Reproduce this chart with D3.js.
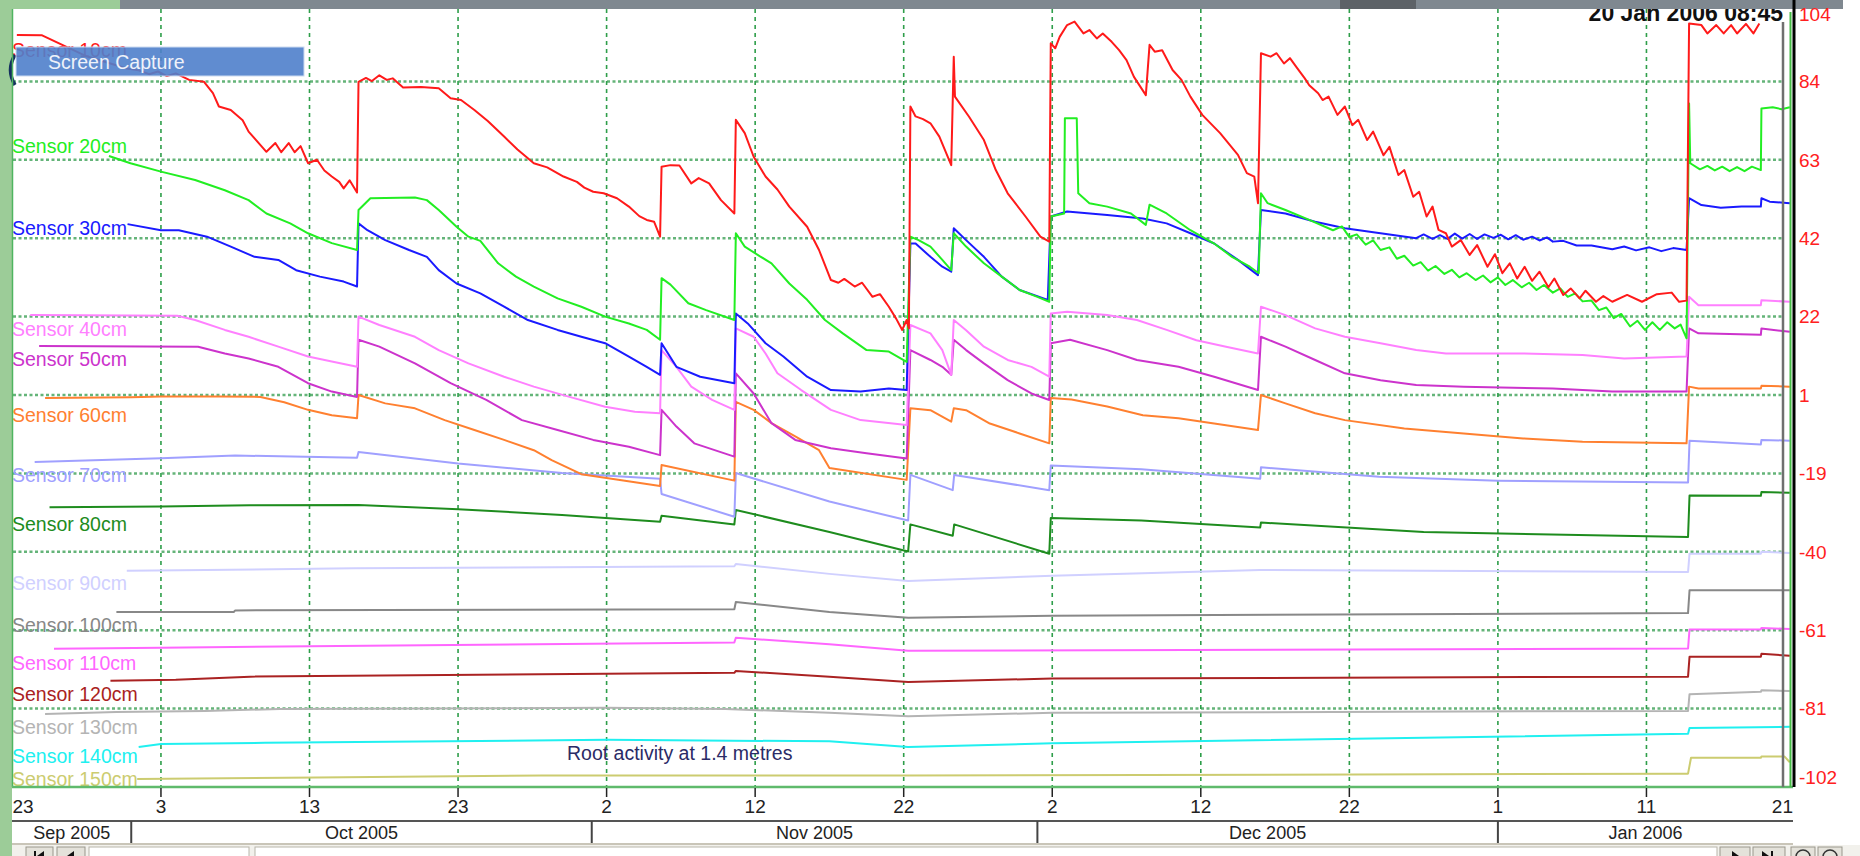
<!DOCTYPE html>
<html>
<head>
<meta charset="utf-8">
<script src="https://cdn.jsdelivr.net/npm/d3@7"></script>
<style>
  body { margin: 0; background: #fff; overflow: hidden; }
  text { font-family: "Liberation Sans", Arial, sans-serif; }
</style>
</head>
<body>
<svg id="chart" width="1860" height="856"></svg>
<script>
// Sensor names and line colours
var sensorNames = ["Sensor 10cm", "Sensor 20cm", "Sensor 30cm", "Sensor 40cm", "Sensor 50cm",
  "Sensor 60cm", "Sensor 70cm", "Sensor 80cm", "Sensor 90cm", "Sensor 100cm",
  "Sensor 110cm", "Sensor 120cm", "Sensor 130cm", "Sensor 140cm", "Sensor 150cm"];
var sensorColors = ["#ff1a1a", "#22ee22", "#1a1aff", "#ff80ff", "#cc33cc",
  "#ff8030", "#a0a0ff", "#1e8c1e", "#d0d0ff", "#888888",
  "#ff66ff", "#aa2222", "#b4b4b4", "#20f0f0", "#cccc70"];

// readings: [days after 23 Sep 2005, value]
var s10 = [[0.3,95.6],[2,95.5],[5,90],[7.7,86.8],[8.5,86.3],[9.2,85.3],[9.8,86],[10.4,84.8],[11,85.5],[11.9,83.8],
  [12.9,83.3],[13.5,80.3],[13.9,76.8],[14.7,75.9],[15.5,73.2],[15.9,70.2],[17.1,64.9],[17.7,67.2],[18.1,64.8],
  [18.6,67.2],[19,64.8],[19.4,66.4],[19.9,61.9],[20.5,62.8],[21,60],[21.5,58.4],[22,57],[22.3,55.3],[22.7,57.4],[23.2,54.2],
  [23.3,83.3],[23.8,84.3],[24.2,83.5],[24.7,85],[25.2,83.8],[25.6,84.2],[26.3,81.8],[27.5,81.9],[28.7,81.6],[29.5,79],
  [30.2,78.5],[31.1,75.9],[32,73],[33.1,68.9],[34,65.5],[35.1,61.9],[36,60.8],[37.1,58.4],[38,57],[38.5,55.5],[39.1,54.4],
  [39.8,54],[40.7,52.7],[41.5,50.5],[42.2,48],[42.7,47],[43.2,46.5],[43.6,42.6],
  [43.7,61],[44.3,61.4],[44.9,61.3],[45.7,56.6],[46.2,58],[46.9,56.6],[47.7,52.2],[48.6,48.7],
  [48.7,73.3],[49.3,69.8],[49.9,63.6],[50.7,58.4],[51.5,55],[52.3,50.5],[53.5,45.2],[54.3,39.1],[55.1,31.2],[55.6,30.5],
  [56,31.5],[56.7,29.5],[57.2,30.5],[57.9,26.8],[58.4,27.5],[59,24.2],[59.5,21],[59.9,18.1],[60.2,20.7],[60.35,18.5],
  [60.45,76.8],[60.8,74.2],[61.3,73.5],[61.8,72.4],[62.4,68.9],[63.2,61.4],
  [63.37,89.9],[63.45,79.4],[64.4,74.1],[65.4,68],[66.2,60.1],[67,54],[68.2,47.9],[69.2,42.6],[69.8,41.3],
  [69.9,93.4],[70.2,92.1],[70.5,95.1],[71,98.2],[71.5,99.1],[72.1,96],[72.5,96.9],[73,94.7],[73.4,96],[74,93.8],
  [74.5,91.6],[75,89],[75.5,84.6],[76.3,79.8],
  [76.55,93],[76.9,91.2],[77.4,91.6],[78.1,86.4],[78.7,83.8],[79.3,79.4],[80.1,74.6],[81.3,69.8],[82.5,64.1],[83.1,59.3],
  [83.6,58.4],[83.85,51.4],
  [84.05,90.8],[84.7,89.9],[85.1,90.8],[85.6,88.1],[86,89.5],[86.5,86.8],[87,84.2],[87.3,82.4],[87.9,80.3],[88.2,78.5],
  [88.6,79.4],[89.2,74.6],[89.7,76.8],[90.2,71.9],[90.6,73.3],[91.2,68],[91.6,70.2],[92.3,64],[92.7,66.2],[93.3,58.8],
  [93.7,60.1],[94.3,53.1],[94.7,54.4],[95.2,47.9],[95.6,50.5],[96,44.4],[96.5,43.5],[96.9,40],
  [97.5,41.7],[98.1,37.8],[98.6,40.4],[99.3,34.7],[99.8,38],[100.3,33],[100.8,35.6],[101.3,31.6],[101.8,34.7],[102.3,31],
  [102.8,33.4],[103.4,29.3],[103.8,31.6],[104.4,27.3],[104.9,29],[105.5,26.4],[105.9,28.4],[106.6,25.5],[107.1,27],
  [107.7,25.5],[108.7,27.3],[109.7,25.5],[110.7,27.5],[111.7,27.9],[112.2,25.5],[112.7,25.8],
  [112.87,98.6],[113.7,98.2],[114.1,96],[114.7,98.2],[115.2,96],[115.7,98.2],[116.1,96],[116.7,98.5],[117.2,96],[117.6,98.6]];

var s20 = [[6.5,63.8],[7.95,61.9],[10,59.7],[12.3,57.5],[14.3,54.8],[15.9,52.2],[17.1,48.7],[18.7,46.1],[19.9,43.5],
  [21.5,40.9],[23.2,39.1],
  [23.3,49.6],[24.1,52.7],[27.1,52.9],[27.9,52.2],[28.7,49.6],[29.9,45.2],[30.7,42.6],[31.5,41.5],[32.7,35.6],[33.9,32.1],
  [35.1,29.5],[36.7,26.4],[38.3,24.2],[39.9,21.6],[41.5,19.8],[42.7,18.1],[43.6,15.5],
  [43.7,31.7],[44.3,30],[45.5,25.1],[46.7,23.3],[48.6,20.7],
  [48.7,43.5],[49.3,40],[50.3,37.5],[51.1,35.6],[52.3,30.3],[53.5,26],[54.7,20.7],[55.9,17.2],[57.5,12.8],[59,12.4],[60.2,9.7],
  [60.45,42.6],[61,41.7],[61.8,40],[62.6,36.5],[63.2,33.8],
  [63.37,43.5],[64.2,40],[65.4,35.6],[66.6,32.1],[67.8,28.6],[69,26.8],[69.8,25.5],
  [69.9,47.9],[70.8,48.7],[70.85,73.7],[71.65,73.7],[71.75,54],[72.5,51.4],[73.7,50.5],[75.3,48.7],[76.3,45.7],
  [76.55,51],[77.7,48.7],[79.3,44.3],[80.9,40.8],[82.1,37.3],[83.3,34.7],[83.9,33],
  [84.05,54],[84.5,51.4],[85.7,49.6],[87.3,47],[88.9,44.3],[89.5,45.3],[90,42.5],[90.5,43.2],[91.1,40.5],[91.6,41.6],
  [92.1,39.1],[92.7,39.8],[93.2,36.8],[93.7,37.6],[94.3,35],[94.8,35.9],[95.3,33.7],[95.8,34.9],[96.4,32.8],[96.9,33.9],
  [97.4,31.9],[97.9,33],[98.5,31.2],[99,32.4],[99.5,30.6],[100,31.9],[100.5,29.9],[101,31.2],[101.6,29.3],[102.1,30.5],
  [102.6,28.6],[103.1,29.9],[103.7,27.9],[104.2,29],[104.7,26.8],[105.2,27.7],[105.7,25.6],[106.3,25.8],[106.8,23.3],
  [107.3,24],[107.8,21.2],[108.3,22.3],[108.9,19],[109.4,20.5],[109.9,18.1],[110.4,20.1],[110.9,18.1],[111.4,20.1],
  [111.9,18.5],[112.3,19.5],[112.7,15.9],
  [112.87,77.6],[112.95,61.9],[113.6,60.3],[114.1,61.2],[114.6,60],[115.1,61],[115.6,59.8],[116.1,60.9],[116.6,59.8],
  [117.1,61],[117.7,60.1],
  [117.74,76.3],[118.5,76.6],[119.1,76.1],[119.65,76.6]];

var s30 = [[7.75,45.9],[10,44.3],[11.2,44.3],[13.1,42.6],[14.7,40],[16.3,37.3],[17.9,36.5],[19.1,33.8],[20.7,32.1],
  [22.3,30.8],[23.2,29.5],
  [23.3,46.1],[23.9,44.3],[25.1,41.7],[26.7,39.1],[27.9,37.3],[28.7,33.8],[29.9,30.3],[31.5,27.7],[33.1,24.2],[34.7,20.7],
  [36.7,18.1],[38.3,16.3],[39.9,14.6],[41.5,11.1],[42.7,8.4],[43.6,6.3],
  [43.7,14.6],[44.7,8.4],[46.3,5.8],[48.6,4.1],
  [48.7,22.4],[49.5,19.8],[50.7,14.6],[51.9,11.1],[53.5,5.8],[55.1,2.3],[57.1,1.9],[59,2.7],[60.2,2.3],
  [60.45,40.8],[60.8,40.8],[61.8,37.3],[62.6,34.7],[63.2,33.4],
  [63.37,44.8],[64.2,41.7],[65.4,37.3],[66.6,32.1],[67.8,28.6],[69.7,26],
  [69.9,47.9],[71,49.2],[73.7,48.3],[76.1,47.4],[77.7,46.1],[79.3,43.5],[80.9,40.8],[82.5,36.5],[83.85,32.5],
  [84.05,49.6],[85.7,48.7],[87.7,46.5],[89.7,44.8],[92.1,43.5],[94.5,42.2],[95,43.2],[95.6,42],[96.1,43],[96.6,42],
  [97.1,43.4],[97.6,42.1],[98.1,43.3],[98.6,42],[99.1,43.2],[99.7,42.3],[100.2,43.1],[100.7,41.9],[101.2,43],[101.7,41.8],
  [102.3,42.6],[102.8,41.6],[103.3,42.4],[103.7,41.3],[104.4,41.5],[105.3,40.3],[106.3,40.3],[107.7,39.3],[108.5,40],
  [109.3,39],[110.2,39.8],[111,38.8],[111.8,39.6],[112.7,39.1],
  [112.87,52.7],[113.7,50.9],[115,50.2],[116.4,50.5],[117.7,50.5],[117.74,52.7],[118.3,51.8],[119.65,51.4]];

var s40 = [[1.2,22],[11.1,21.8],[12.3,20.7],[14.3,18.1],[15.9,16.3],[17.9,13.7],[19.9,11.1],[21.5,9.8],[23.2,8.4],
  [23.3,21.6],[24.7,19.4],[27.1,16.3],[28.7,12.8],[30.7,9.3],[33.1,5.8],[35.1,3.2],[37.5,0.5],[39.9,-2.1],[41.9,-3.4],[43.6,-3.8],
  [43.7,12.8],[44.7,8.4],[45.7,3.2],[47.1,-0.3],[48.6,-2.9],
  [48.7,18.5],[49.9,16.3],[50.7,11.9],[51.5,6.7],[53.1,2.3],[55.1,-2.9],[57.1,-5.6],[60.2,-6.9],
  [60.45,19.4],[61.8,17.2],[62.6,12.8],[63.2,6.3],
  [63.37,20.7],[64.2,18],[65.4,13.7],[67,10.2],[68.6,8.4],[69.8,5.8],
  [69.9,22.4],[71,22.9],[73.7,22],[75.7,20.7],[77.7,18.1],[79.7,15.4],[81.7,13.7],[83.85,11.9],
  [84.05,24.2],[85.7,22],[87.7,18.5],[89.7,16.3],[92.1,14.6],[94.5,12.8],[96.5,11.9],[101.7,11.9],[105.7,11.5],
  [108.5,10.6],[112.7,11.1],
  [112.87,26.8],[113.5,24.6],[117.7,24.6],[117.74,25.9],[119.65,25.5]];

var s50 = [[1.8,13.9],[12.5,13.7],[14.3,11.9],[15.9,10.6],[17.9,8.4],[19.9,4.1],[21.5,1.9],[23.2,0.5],
  [23.3,15.5],[24.7,13.7],[27.1,9.3],[29.5,4.1],[31.9,-0.3],[34.3,-5.6],[36.7,-8.2],[39.1,-10.8],[41.5,-12.6],[43.6,-14.8],
  [43.7,-2.9],[44.7,-7.3],[45.9,-11.7],[48.6,-15.2],
  [48.7,6.7],[49.9,1.4],[51.1,-6.4],[52.7,-10.8],[55.1,-13],[57.5,-14.3],[60.2,-15.7],
  [60.45,12.8],[61.8,10.2],[62.6,8.4],[63.2,6.3],
  [63.37,15.5],[64.2,12.8],[65.4,9.3],[67,4.9],[68.6,1.4],[69.8,-0.3],
  [69.9,14.6],[71.2,15.5],[73.7,12.8],[75.7,10.2],[78.5,8.4],[80.9,5.8],[83.85,2.3],
  [84.05,16.3],[85.7,13.7],[87.7,10.2],[89.7,6.7],[92.1,4.9],[94.5,3.6],[97.7,3.2],[103.7,2.7],[107.7,1.9],[112.7,1.9],
  [112.87,18.5],[113.5,17.2],[117.7,16.8],[117.74,18.5],[119.65,17.6]];

var s60 = [[2.2,0.2],[8,0.4],[10,0.6],[14,0.6],[16.7,0.5],[18.3,-0.9],[19.9,-2.9],[21.5,-4.3],[23.2,-5.1],
  [23.3,1],[25.1,-1.2],[27.1,-2.5],[29.1,-5.6],[31.1,-8.2],[33.1,-10.8],[35.1,-13.5],[36.3,-16.1],[38.3,-19.8],[43.6,-22.9],
  [43.7,-17.4],[48.6,-21.5],
  [48.7,-0.8],[49.9,-2.9],[51.1,-6.4],[52.7,-9.9],[54.3,-13.5],[55,-18.2],[60.2,-21.3],
  [60.45,-2.5],[61.8,-3],[63.2,-6],
  [63.37,-2.5],[64.2,-3],[65.8,-6.5],[67.8,-9.1],[69.8,-11.7],
  [69.9,0.2],[71.3,-0.2],[73.7,-2],[76.1,-4.3],[78.5,-5.1],[80.9,-6.5],[83.85,-8.2],
  [84.05,1],[85.7,-1.2],[87.7,-3.8],[89.7,-5.6],[93.7,-7.8],[97.7,-9.1],[101.7,-10.4],[105.7,-11.3],[112.7,-11.7],
  [112.87,3.2],[113.5,2.7],[117.7,2.7],[117.74,3.4],[119.65,3.2]];

var s70 = [[1.5,-16.6],[10,-15.6],[15,-14.9],[23.2,-15.5],[23.3,-14],[30,-17],[37,-19.5],[43.6,-21],[43.7,-25],[48.6,-31],
  [48.7,-19.5],[55,-27],[60.3,-32],[60.45,-20],[63.3,-24],[63.4,-20],[69.8,-24],[69.9,-17.5],[76,-18.5],[84,-21],
  [84.05,-18],[92,-20.5],[100,-21.5],[112.8,-22],[112.9,-11],[117.7,-12],[117.74,-10.8],[119.65,-11]];
var s80 = [[2.5,-28.5],[10,-28.3],[16,-28],[23.3,-27.9],[30,-29],[37,-30.5],[43.6,-32.3],[43.7,-30.7],[48.6,-33],[48.7,-29.2],
  [55,-35],[60.3,-40.1],[60.45,-33],[63.3,-36],[63.4,-33],[69.8,-40.7],[69.9,-31.3],[76,-32],[84,-33.8],[84.05,-32.5],
  [95,-35],[112.8,-36.3],[112.9,-25.4],[117.7,-25.5],[117.74,-24.5],[119.65,-24.7]];
var s90 = [[7.7,-45.2],[13,-45],[23,-44.5],[48.6,-44],[48.7,-43.4],[55,-46],[60.3,-47.9],[70,-46.5],[84,-45],[112.8,-45.5],
  [112.9,-40.7],[117.7,-40.7],[117.74,-40.2],[119.65,-40.5]];
var s100 = [[7,-56],[14.9,-56],[15,-55.6],[48.6,-55.3],[48.7,-53.4],[55,-56],[60.3,-57.5],[70,-57],[112.8,-56.3],
  [112.9,-50.3],[119.65,-50.3]];
var s110 = [[2.8,-65.7],[10,-65.4],[20,-65],[48.6,-64],[48.7,-62.8],[55,-64.5],[60.3,-66.2],[112.8,-65.6],[112.9,-60.6],
  [117.7,-60.6],[117.74,-60.2],[119.65,-60.5]];
var s120 = [[6.6,-74.1],[11,-73.8],[16,-73],[48.6,-72],[48.7,-71.5],[55,-73],[60.3,-74.4],[70,-73.5],[112.8,-73],
  [112.9,-67.8],[117.7,-67.8],[117.74,-67],[119.65,-67.5]];
var s130 = [[2.2,-82.8],[7,-82.3],[13,-82],[18,-81.5],[40,-81.2],[48,-81.5],[55,-82.5],[60.3,-83.4],[70,-82.5],[112.8,-82],
  [112.9,-77.6],[117.7,-77],[117.74,-76.6],[119.65,-76.8]];
var s140 = [[8.5,-91.5],[10,-90.7],[17,-90.4],[40,-89.6],[55,-90],[60.3,-91.5],[70,-90.5],[112.8,-88],[112.9,-86.5],
  [119.65,-86.2]];
var s150 = [[8.4,-99.9],[20.5,-99.5],[35.6,-99],[60,-99],[112,-98.5],[112.8,-98.5],[113,-94.3],[117.7,-94.3],
  [117.74,-94],[119.3,-94],[119.65,-95.5]];

var allSeries = [s10, s20, s30, s40, s50, s60, s70, s80, s90, s100, s110, s120, s130, s140, s150];

// right axis labels, bottom to top
var yTickLabels = ["-102", "-81", "-61", "-40", "-19", "1", "22", "42", "63", "84", "104"];
var stampText = "20 Jan 2006 08:45";
var noteText = "Root activity at 1.4 metres";

// legend label centres (px), placed by hand like the original screen
var legendY = [50, 146, 228, 329, 359, 415, 475, 524, 583, 625, 663, 694, 727, 756, 779];

var startDate = new Date(2005, 8, 23);
var endDate = new Date(2006, 0, 21);
var toDate = d => new Date(startDate.getTime() + d * 864e5);

var plotLeft = 12.4, plotRight = 1795, plotTop = 3, plotBottom = 787;

var svg = d3.select("#chart");

var xScale = d3.scaleTime().domain([startDate, endDate]).range([plotLeft, plotRight]);
var yScale = d3.scaleLinear().domain([-102, 104]).range([plotBottom, plotTop]);

var yTicks = d3.range(11).map(i => -102 + i * 20.6);
var xTicks = d3.timeDay.range(startDate, d3.timeDay.offset(endDate, 1)).filter((d, i) => i % 10 === 0);

// left light-green strip and the grey title strip
svg.append("rect").attr("x", 0).attr("y", 0).attr("width", 12).attr("height", 856).attr("fill", "#9ccc98");
svg.append("rect").attr("x", 0).attr("y", 0).attr("width", 120).attr("height", 9).attr("fill", "#9ccc98");

// grid
var grid = svg.append("g");
grid.selectAll("line.hg")
  .data(yTicks.slice(1, 10))
  .enter().append("line")
  .attr("x1", 13).attr("x2", 1783)
  .attr("y1", d => yScale(d)).attr("y2", d => yScale(d))
  .attr("stroke", "#4aa862").attr("stroke-width", 2.5)
  .attr("stroke-dasharray", "3,2.5").attr("opacity", 0.85);
grid.selectAll("line.vg")
  .data(xTicks.slice(1, -1))
  .enter().append("line")
  .attr("x1", d => xScale(d)).attr("x2", d => xScale(d))
  .attr("y1", 9).attr("y2", plotBottom)
  .attr("stroke", "#2e9e4a").attr("stroke-width", 1.6)
  .attr("stroke-dasharray", "4,4");

// clip for series
svg.append("clipPath").attr("id", "plotclip")
  .append("rect").attr("x", 12).attr("y", 0).attr("width", 1781).attr("height", plotBottom);

var line = d3.line()
  .x(d => xScale(toDate(d[0])))
  .y(d => yScale(d[1]));

svg.append("g").attr("clip-path", "url(#plotclip)")
  .selectAll("path")
  .data(allSeries.slice().reverse())
  .enter().append("path")
  .attr("d", line)
  .attr("fill", "none")
  .attr("stroke", (d, i) => sensorColors[allSeries.length - 1 - i])
  .attr("stroke-width", 2)
  .attr("stroke-linejoin", "round");

// legend labels
svg.append("g").selectAll("text")
  .data(sensorNames)
  .enter().append("text")
  .attr("x", 12)
  .attr("y", (d, i) => legendY[i])
  .attr("dy", "0.36em")
  .attr("font-size", "19.5px")
  .attr("fill", (d, i) => sensorColors[i])
  .text(d => d);

// note
svg.append("text")
  .attr("x", 567).attr("y", 753).attr("dy", "0.36em")
  .attr("font-size", "19.5px").attr("fill", "#2b2b66")
  .text(noteText);

// "Screen Capture" button over the first label, with the edge of a round icon behind it
svg.append("path")
  .attr("d", "M15,55 Q6,70 15,85")
  .attr("fill", "none").attr("stroke", "#14305e").attr("stroke-width", 3.5);
svg.append("rect")
  .attr("x", 16).attr("y", 47).attr("width", 288).attr("height", 29)
  .attr("fill", "#4f80cc").attr("opacity", 0.9)
  .attr("stroke", "#c8d8f0").attr("stroke-width", 1);
svg.append("text")
  .attr("x", 48).attr("y", 62).attr("dy", "0.36em")
  .attr("font-size", "19.5px").attr("fill", "#eef2fa")
  .text("Screen Capture");

// time stamp (top is hidden by the grey strip)
svg.append("text")
  .attr("x", 1783).attr("y", 21)
  .attr("text-anchor", "end")
  .attr("font-size", "23px").attr("font-weight", "bold").attr("fill", "#111")
  .text(stampText);

svg.append("rect").attr("x", 120).attr("y", 0).attr("width", 1723).attr("height", 9).attr("fill", "#7f8890");
svg.append("rect").attr("x", 1340).attr("y", 0).attr("width", 76).attr("height", 9).attr("fill", "#4e5256").attr("opacity", 0.7);

// frame
svg.append("line").attr("x1", 12.5).attr("x2", 12.5).attr("y1", 9).attr("y2", plotBottom)
  .attr("stroke", "#4fb560").attr("stroke-width", 1.5);
svg.append("line").attr("x1", 12).attr("x2", 1793).attr("y1", plotBottom).attr("y2", plotBottom)
  .attr("stroke", "#5fba6c").attr("stroke-width", 2.5);
svg.append("line").attr("x1", 1783).attr("x2", 1783).attr("y1", 22).attr("y2", plotBottom)
  .attr("stroke", "#707070").attr("stroke-width", 2.5);
svg.append("line").attr("x1", 1790.5).attr("x2", 1790.5).attr("y1", 12).attr("y2", plotBottom)
  .attr("stroke", "#44bb44").attr("stroke-width", 2);
svg.append("line").attr("x1", 1794).attr("x2", 1794).attr("y1", 0).attr("y2", plotBottom)
  .attr("stroke", "#000").attr("stroke-width", 3);

// right value axis
svg.append("g").selectAll("text")
  .data(yTicks)
  .enter().append("text")
  .attr("x", 1799)
  .attr("y", d => Math.min(Math.max(yScale(d), 14), 777))
  .attr("dy", "0.36em")
  .attr("font-size", "19px").attr("fill", "#ff2020")
  .text((d, i) => yTickLabels[i]);

// time axis: small ticks and day labels
var xAxis = svg.append("g");
xAxis.selectAll("line")
  .data(xTicks.slice(1, -1))
  .enter().append("line")
  .attr("x1", d => xScale(d)).attr("x2", d => xScale(d))
  .attr("y1", plotBottom + 1).attr("y2", 797)
  .attr("stroke", "#222").attr("stroke-width", 1.5);
xAxis.selectAll("text")
  .data(xTicks)
  .enter().append("text")
  .attr("x", d => Math.min(Math.max(xScale(d), 12), 1793))
  .attr("y", 813)
  .attr("text-anchor", (d, i) => i === 0 ? "start" : (i === xTicks.length - 1 ? "end" : "middle"))
  .attr("font-size", "19px").attr("fill", "#222")
  .text(d3.timeFormat("%-d"));

// month band
var monthStarts = d3.timeMonth.range(startDate, endDate);
var bandEdges = [startDate].concat(monthStarts.filter(d => d > startDate)).concat([endDate]);
svg.append("line").attr("x1", 12).attr("x2", 1793).attr("y1", 821).attr("y2", 821)
  .attr("stroke", "#555").attr("stroke-width", 2);
svg.append("g").selectAll("line")
  .data(bandEdges.slice(1, -1))
  .enter().append("line")
  .attr("x1", d => xScale(d)).attr("x2", d => xScale(d))
  .attr("y1", 821).attr("y2", 843)
  .attr("stroke", "#444").attr("stroke-width", 2);
svg.append("g").selectAll("text")
  .data(bandEdges.slice(0, -1))
  .enter().append("text")
  .attr("x", (d, i) => (xScale(d) + Math.min(xScale(bandEdges[i + 1]), 1793)) / 2)
  .attr("y", 839)
  .attr("text-anchor", "middle")
  .attr("font-size", "18px").attr("fill", "#222")
  .text(d3.timeFormat("%b %Y"));

// scroll bar strip at the very bottom (only its top edge is on screen)
svg.append("rect").attr("x", 12).attr("y", 843).attr("width", 1781).attr("height", 2).attr("fill", "#c9c5b8");
svg.append("rect").attr("x", 12).attr("y", 845).attr("width", 1848).attr("height", 11).attr("fill", "#f2f1ec");
[[26, 27], [57, 28], [1720, 30], [1753, 32], [1791, 24], [1818, 24]].forEach(function(b) {
  svg.append("rect").attr("x", b[0]).attr("y", 847).attr("width", b[1]).attr("height", 10)
    .attr("fill", "#e4e2da").attr("stroke", "#9a978c").attr("stroke-width", 1);
});
svg.append("rect").attr("x", 89).attr("y", 847).attr("width", 160).attr("height", 10)
  .attr("fill", "#fff").attr("stroke", "#b8b5aa");
svg.append("rect").attr("x", 255).attr("y", 847).attr("width", 1462).attr("height", 10)
  .attr("fill", "#fff").attr("stroke", "#b8b5aa");
var glyph = svg.append("g").attr("fill", "#111");
glyph.append("rect").attr("x", 34).attr("y", 851).attr("width", 2).attr("height", 6);
glyph.append("path").attr("d", "M37,856 L44,851 L44,857 Z");
glyph.append("path").attr("d", "M67,856 L74,851 L74,857 Z");
glyph.append("path").attr("d", "M1732,851 L1739,856 L1732,857 Z");
glyph.append("path").attr("d", "M1762,851 L1769,856 L1762,857 Z");
glyph.append("rect").attr("x", 1771).attr("y", 851).attr("width", 2).attr("height", 6);
svg.append("circle").attr("cx", 1803).attr("cy", 857).attr("r", 7).attr("fill", "none").attr("stroke", "#333").attr("stroke-width", 1.5);
svg.append("circle").attr("cx", 1830).attr("cy", 857).attr("r", 7).attr("fill", "none").attr("stroke", "#333").attr("stroke-width", 1.5);
</script>
</body>
</html>
